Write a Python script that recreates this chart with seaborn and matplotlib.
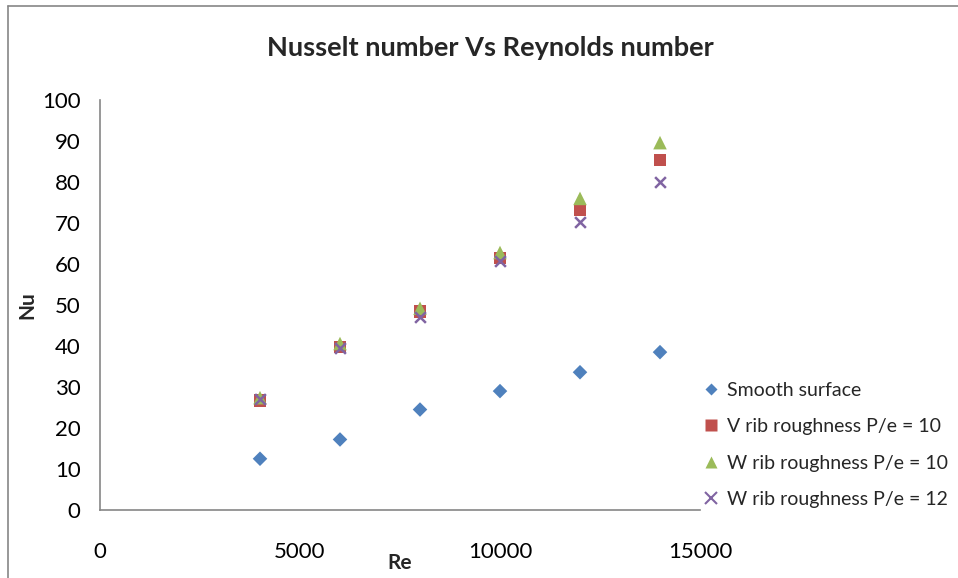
import matplotlib
matplotlib.use("Agg")
import matplotlib.pyplot as plt
import seaborn as sns
import pandas as pd
from matplotlib.lines import Line2D

re_values = [4000, 6000, 8000, 10000, 12000, 14000]
series_names = ["Smooth surface", "V rib roughness P/e = 10",
                "W rib roughness P/e = 10", "W rib roughness P/e = 12"]
smooth = [12.5, 17.2, 24.5, 29.0, 33.6, 38.5]
v_rib_10 = [26.7, 39.8, 48.4, 61.4, 73.2, 85.4]
w_rib_10 = [27.4, 40.6, 49.2, 62.8, 76.0, 89.6]
w_rib_12 = [27.0, 39.4, 47.0, 60.8, 70.2, 79.9]
x_ticks = [0, 5000, 10000, 15000]
y_ticks = list(range(0, 101, 10))

rows = []
for name, vals in zip(series_names, [smooth, v_rib_10, w_rib_10, w_rib_12]):
    for r, v in zip(re_values, vals):
        rows.append({"Re": r, "Nu": v, "Series": name})
df = pd.DataFrame(rows)

sns.set_theme(style="white")
plt.rcParams['font.family'] = ['Lato', 'DejaVu Sans']

colors = {series_names[0]: "#4F81BD", series_names[1]: "#C0504D",
          series_names[2]: "#9BBB59", series_names[3]: "#8064A2"}
markers = {series_names[0]: "D", series_names[1]: "s",
           series_names[2]: "^", series_names[3]: "x"}
sizes = {series_names[0]: 55, series_names[1]: 80,
         series_names[2]: 95, series_names[3]: 60}

fig = plt.figure(figsize=(9.58, 5.78), dpi=100)
ax = fig.add_axes([100/958, 1-510/578, 600/958, 410/578])

for name in series_names:
    sub = df[df["Series"] == name]
    kw = dict(color=colors[name], marker=markers[name], s=sizes[name], ax=ax,
              label=name, zorder=3)
    if markers[name] == "x":
        kw["linewidth"] = 1.8
    else:
        kw["edgecolor"] = "none"
    sns.scatterplot(data=sub, x="Re", y="Nu", legend=False, **kw)

ax.set_xlim(0, 15000)
ax.set_ylim(0, 100)
ax.set_xticks(x_ticks)
ax.set_yticks(y_ticks)
ax.tick_params(axis='both', length=0, labelsize=16, colors="black")
ax.tick_params(axis='y', pad=14)
ax.tick_params(axis='x', pad=23)
for s in ["top", "right"]:
    ax.spines[s].set_visible(False)
for s in ["left", "bottom"]:
    ax.spines[s].set_color("#868686")
    ax.spines[s].set_linewidth(1.2)

ax.set_xlabel("Re", fontsize=15, fontweight="bold")
ax.set_ylabel("Nu", fontsize=15, fontweight="bold")
ax.xaxis.set_label_coords(0.5, -0.105)
ax.yaxis.set_label_coords(-0.105, 0.5)

fig.text(490/958, 1-48/578, "Nusselt number Vs Reynolds number",
         ha="center", va="center", fontsize=19.5, fontweight="bold")

handles = []
for name in series_names:
    if markers[name] == "x":
        h = Line2D([], [], linestyle="none", marker="x", color=colors[name],
                   markersize=8, markeredgewidth=1.5)
    else:
        ms = {"D": 6.5, "s": 8, "^": 9}[markers[name]]
        h = Line2D([], [], linestyle="none", marker=markers[name],
                   color=colors[name], markeredgecolor="none", markersize=ms)
    handles.append(h)
fig.legend(handles, series_names, loc="upper left",
           bbox_to_anchor=(697/958, 1-374/578), frameon=False,
           fontsize=14, handlelength=0.6, handletextpad=0.55,
           labelspacing=1.0, borderaxespad=0)

# chart area border (partially visible)
fig.add_artist(Line2D([8/958, 8/958], [0, 1-6/578], transform=fig.transFigure,
                      color="#868686", linewidth=1.2))
fig.add_artist(Line2D([8/958, 1], [1-6/578, 1-6/578], transform=fig.transFigure,
                      color="#868686", linewidth=1.2))

fig.savefig("out.png", dpi=100)
